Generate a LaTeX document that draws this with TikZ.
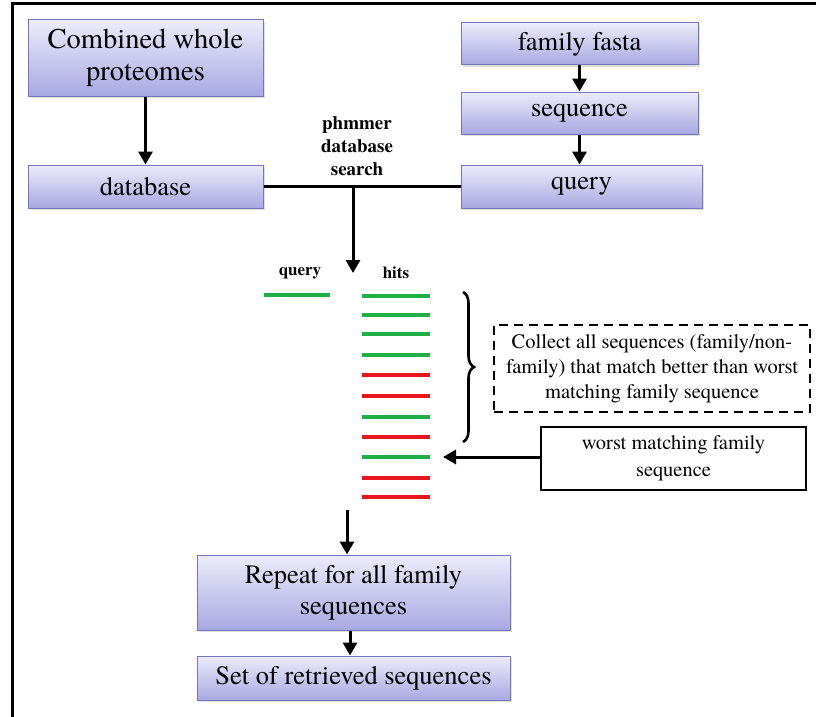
\documentclass[tikz,border=0pt]{standalone}
\usepackage{fontspec}
\setmainfont{texgyretermes}[Extension=.otf, UprightFont=*-regular, BoldFont=*-bold, ItalicFont=*-italic, BoldItalicFont=*-bolditalic]
\usetikzlibrary{arrows.meta,decorations.pathreplacing,shadows}
\definecolor{boxtop}{RGB}{236,236,251}
\definecolor{boxbot}{RGB}{168,168,226}
\definecolor{boxline}{RGB}{118,118,190}
\definecolor{hitgreen}{RGB}{30,176,70}
\definecolor{hitred}{RGB}{232,22,30}
\tikzset{
  pbox/.style={draw=boxline, line width=1pt, top color=boxtop, bottom color=boxbot,
    align=center, inner sep=2pt, font=\fontsize{26.5}{31}\selectfont,
    drop shadow={shadow xshift=2pt, shadow yshift=-2pt, opacity=0.25}},
  conn/.style={line width=3pt, -{Triangle[width=14pt,length=13pt]}},
  plainline/.style={line width=3pt},
  hitg/.style={line width=3.2pt, hitgreen},
  hitr/.style={line width=3.2pt, hitred},
  lbl/.style={font=\bfseries\fontsize{19}{23}\selectfont, align=center},
  smlbl/.style={font=\bfseries\fontsize{17}{19}\selectfont},
  txtbox/.style={align=center, font=\fontsize{20.5}{25}\selectfont, inner sep=2pt},
}
\begin{document}
\begin{tikzpicture}[x=1pt,y=-1pt]
\useasboundingbox (0,0) rectangle (816,717);
% frame
\coordinate (f1) at (12,717);
\coordinate (f2) at (12,4);
\coordinate (f3) at (816,4);
\draw[line width=3pt] (f1) -- (f2) -- (f3);

% boxes
\node[pbox, minimum width=235, minimum height=76, font=\fontsize{28.5}{32}\selectfont] (cwp) at (145.5,58) {Combined whole\\proteomes\rule[-6pt]{0pt}{1pt}};
\node[pbox, minimum width=235, minimum height=43] (db) at (145.5,186.5) {database};
\node[pbox, minimum width=237, minimum height=42] (ff) at (579.5,44) {family fasta};
\node[pbox, minimum width=237, minimum height=42] (seq) at (579.5,113) {sequence};
\node[pbox, minimum width=241, minimum height=43] (qry) at (581.5,186.5) {query};
\node[pbox, minimum width=313, minimum height=75] (rep) at (353.5,592.5) {Repeat for all family\\sequences};
\node[pbox, minimum width=313, minimum height=44] (set) at (353.5,678) {Set of retrieved sequences};

% arrows between boxes
\draw[conn] (cwp.south) -- (db.north);
\draw[conn] (ff.south) -- (seq.north);
\draw[conn] (seq.south) -- (seq.south |- qry.north);

% search line
\coordinate (j) at (353,187);
\coordinate (jd) at (353,273);
\draw[plainline] (db.east) -- (qry.west);
\draw[conn] (j) -- (jd);
\node[lbl] (ph) at (357,146) {phmmer\\database\\search};

% hits
\node[smlbl] (ql) at (300,273) {query};
\node[smlbl] (hl) at (396,273) {hits};
\coordinate (q1) at (264,295); \coordinate (q2) at (330,295);
\draw[hitg] (q1) -- (q2);
\foreach \y/\s in {296/hitg,315/hitg,334/hitg,355/hitg,375/hitr,396/hitr,417/hitg,437/hitr,457/hitg,478/hitr,497/hitr}{
  \draw[\s] (362,\y) -- (430,\y);
}
\coordinate (wh) at (443,457);

% brace
\coordinate (b1) at (463,292);
\coordinate (b2) at (463,442);
\draw[line width=2.6pt, decorate, decoration={brace, amplitude=11pt, aspect=0.5}] (b1) -- (b2);

% dashed box
\node[txtbox, draw, line width=2.2pt, dash pattern=on 9pt off 6pt, minimum width=316, minimum height=87] (col) at (652,368.5)
  {Collect all sequences (family/non-\\family) that match better than worst\\matching family sequence};

% worst box
\node[txtbox, draw, line width=2pt, minimum width=265, minimum height=63, fill=white,
  font=\fontsize{20.5}{27}\selectfont] (worst) at (673.5,458.5)
  {worst matching family\\sequence};
\draw[conn] (worst.west |- wh) -- (wh);

% lower arrows
\coordinate (l1) at (347,510);
\draw[conn] (l1) -- (rep.north -| l1);
\draw[conn] (rep.south -| 350,0) -- (set.north -| 350,0);
\end{tikzpicture}
\end{document}
